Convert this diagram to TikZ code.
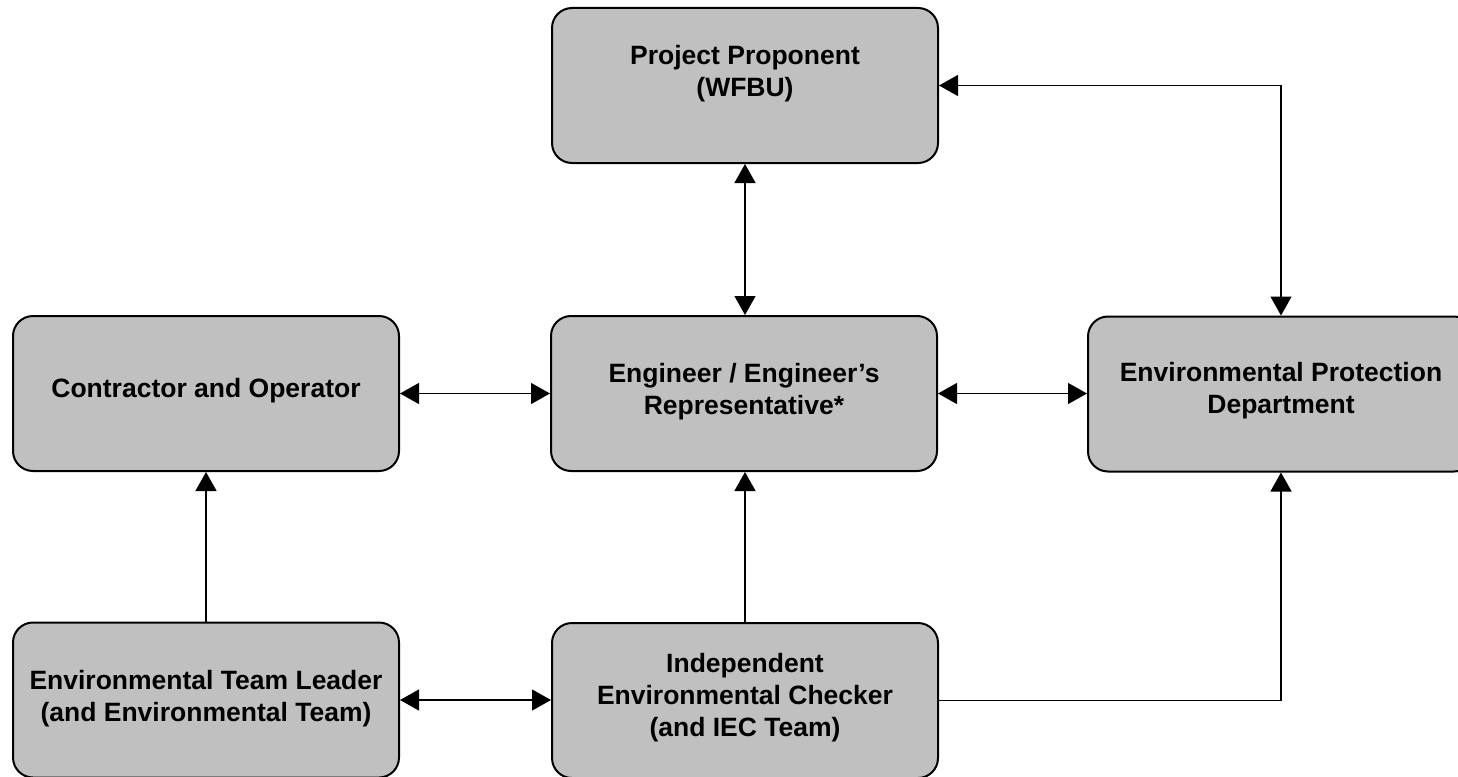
\documentclass[tikz,border=0pt]{standalone}
\usepackage{fontspec}
\setmainfont{Liberation Sans}
\usetikzlibrary{arrows.meta}
\definecolor{boxgray}{HTML}{C0C0C0}
\tikzset{
  box/.style={draw=black, line width=2pt, fill=boxgray, rounded corners=20pt,
    minimum width=386pt, minimum height=155pt, inner sep=0pt},
  boxtext/.style={align=center, inner sep=0pt,
    font=\fontsize{26.5}{32}\selectfont\bfseries},
  conn/.style={line width=1.3pt, draw=black},
  >={Triangle[length=19pt,width=21pt]}
}
\begin{document}
\begin{tikzpicture}[x=1pt,y=-1pt]
\useasboundingbox (0,0) rectangle (1458,776);
\fill[white] (0,0) rectangle (1458,776);
% boxes
\node[box] (pp)  at (745,85.5) {};
\node[box] (co)  at (206,393.5) {};
\node[box] (en)  at (744,393.5) {};
\node[box] (epd) at (1281,394) {};
\node[box] (etl) at (206,700) {};
\node[box] (iec) at (745,700.5) {};
% texts
\node[boxtext] (ppt)  at (745,74)   {Project Proponent\\(WFBU)};
\node[boxtext] (cot)  at (206,391)  {Contractor and Operator};
\node[boxtext] (ent)  at (744,391.3){Engineer / Engineer’s\\Representative*};
\node[boxtext] (epdt) at (1281,391) {Environmental Protection\\Department};
\node[boxtext] (etlt) at (206,699)  {Environmental Team Leader\\(and Environmental Team)};
\node[boxtext] (iect) at (745,697.3){Independent\\Environmental Checker\\(and IEC Team)};
% connectors
\draw[conn,<->] (pp.south) -- (pp.south |- en.north);
\draw[conn,<->] (pp.east) -| (epd.north);
\draw[conn,<->] (co.east) -- (co.east -| en.west);
\draw[conn,<->] (en.east) -- (en.east -| epd.west);
\draw[conn,->] (etl.north) -- (etl.north |- co.south);
\draw[conn,->] (iec.north) -- (iec.north |- en.south);
\draw[conn,<->] (etl.east) -- (etl.east -| iec.west);
\draw[conn,->] (iec.east) -| (epd.south);
\end{tikzpicture}
\end{document}
